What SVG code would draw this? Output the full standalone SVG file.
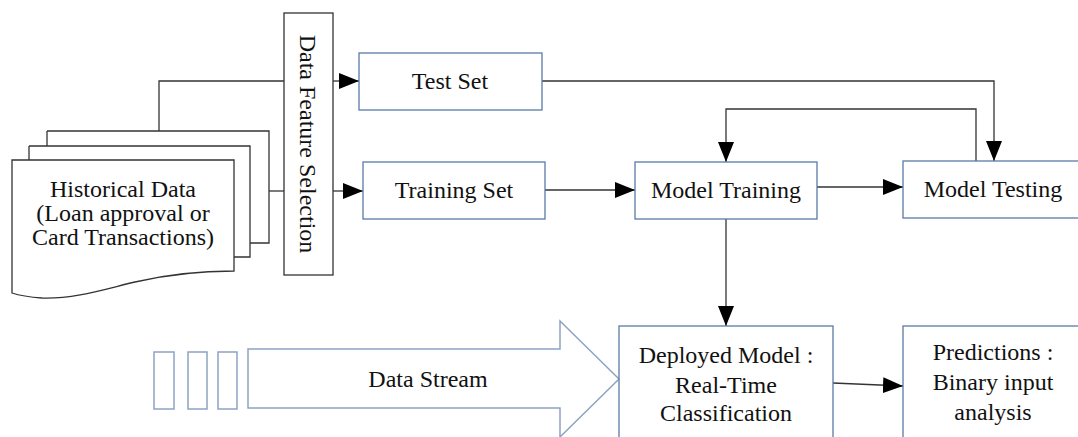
<svg xmlns="http://www.w3.org/2000/svg" width="1078" height="437" viewBox="0 0 1078 437">
<defs>
<style>
.box{fill:#fff;stroke:#5a7aa6;stroke-width:1.3}
.doc{fill:#fff;stroke:#333;stroke-width:1.3}
.lite{fill:#fff;stroke:#8ea3c3;stroke-width:1.5}
.con{fill:none;stroke:#333;stroke-width:1.3}
text{font-family:"Liberation Serif","Times New Roman",serif;font-size:24px;fill:#111;text-anchor:middle}
</style>
<marker id="ah2" markerWidth="20" markerHeight="16" refX="20" refY="8" orient="auto" markerUnits="userSpaceOnUse" viewBox="0 0 20 16">
<path d="M0,0 L20,8 L0,16 Z" fill="#000"/>
</marker>
</defs>

<g id="connectors">
<polyline class="con" points="159,131 159,81 284,81"/>
<line class="con" x1="269" y1="191" x2="284" y2="191"/>
<line class="con" x1="333" y1="81" x2="359" y2="81" marker-end="url(#ah2)"/>
<line class="con" x1="333" y1="191" x2="363" y2="191" marker-end="url(#ah2)"/>
<polyline class="con" points="542,81 994,81 994,161" marker-end="url(#ah2)"/>
<line class="con" x1="545" y1="190" x2="635" y2="190" marker-end="url(#ah2)"/>
<line class="con" x1="817" y1="187" x2="903" y2="187" marker-end="url(#ah2)"/>
<polyline class="con" points="976,161 976,109 726,109 726,162" marker-end="url(#ah2)"/>
<line class="con" x1="726" y1="219" x2="726" y2="326" marker-end="url(#ah2)"/>
<line class="con" x1="833" y1="383" x2="903" y2="386" marker-end="url(#ah2)"/>
</g>

<g id="historical-data">
<path class="doc" d="M47,131 H269 V243 H250"/>
<path class="doc" d="M47,146 V131"/>
<path class="doc" d="M29,146 H250 V257 H234"/>
<path class="doc" d="M29,160 V146"/>
<path class="doc" d="M12,160 H234 V271 C200,271 165,275 135,282 C105,289 75,299 42,298 C28,297 18,295 12,293 Z"/>
<text x="123" y="197">Historical Data</text>
<text x="123" y="221">(Loan approval or</text>
<text x="123" y="245">Card Transactions)</text>
</g>

<g id="data-feature-selection">
<rect class="doc" x="284" y="13" width="49" height="262"/>
<text transform="translate(300,144) rotate(90)" x="0" y="0">Data Feature Selection</text>
</g>

<g id="test-set">
<rect class="box" x="359" y="53" width="183" height="57"/>
<text x="450" y="89">Test Set</text>
</g>

<g id="training-set">
<rect class="box" x="363" y="162" width="182" height="57"/>
<text x="454" y="198">Training Set</text>
</g>

<g id="model-training">
<rect class="box" x="635" y="162" width="182" height="57"/>
<text x="726" y="198">Model Training</text>
</g>

<g id="model-testing">
<rect class="box" x="903" y="161" width="185" height="57"/>
<text x="993" y="197">Model Testing</text>
</g>

<g id="data-stream">
<rect class="lite" x="154" y="352" width="20" height="57"/>
<rect class="lite" x="188" y="352" width="19" height="57"/>
<rect class="lite" x="218" y="352" width="19" height="57"/>
<path class="lite" d="M248,349 H560 V321 L619,379 L560,437 V408 H248 Z"/>
<text x="428" y="387">Data Stream</text>
</g>

<g id="deployed-model">
<rect class="box" x="619" y="326" width="214" height="130"/>
<text x="726" y="363">Deployed Model :</text>
<text x="726" y="393">Real-Time</text>
<text x="726" y="421">Classification</text>
</g>

<g id="predictions">
<rect class="box" x="903" y="326" width="185" height="130"/>
<text x="993" y="360">Predictions :</text>
<text x="993" y="390">Binary input</text>
<text x="993" y="420">analysis</text>
</g>
</svg>
